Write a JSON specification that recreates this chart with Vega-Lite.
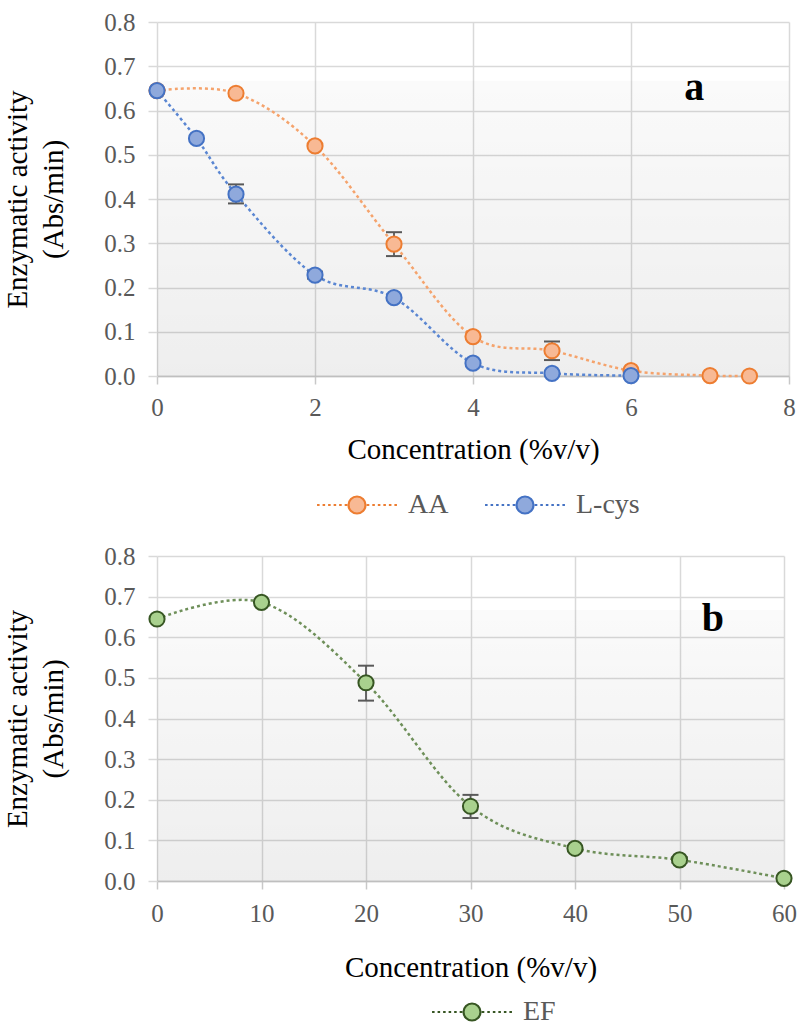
{
  "$schema": "https://vega.github.io/schema/vega-lite/v6.json",
  "background": "white",
  "padding": {"left": 3, "top": 10, "right": 0, "bottom": 0},
  "spacing": 25,
  "config": {
    "view": {"stroke": null},
    "font": "Liberation Serif",
    "legend": {
      "disable": false,
      "layout": {"bottom": {"anchor": "middle"}},
      "labelFont": "Liberation Serif", "labelFontSize": 28, "labelColor": "#595959",
      "titleFont": "Liberation Serif", "titleFontSize": 28, "titleFontWeight": "normal", "titleOrient": "left",
      "symbolType": "M-1.15,0L-1.45,0M-1.8,0L-2.1,0M-2.45,0L-2.75,0M-3.1,0L-3.4,0M-3.75,0L-4.05,0M-4.4,0L-4.7,0M1.15,0L1.45,0M1.8,0L2.1,0M2.45,0L2.75,0M3.1,0L3.4,0M3.75,0L4.05,0M4.4,0L4.7,0M1,0C1,0.552,0.552,1,0,1C-0.552,1,-1,0.552,-1,0C-1,-0.552,-0.552,-1,0,-1C0.552,-1,1,-0.552,1,0Z",
      "symbolSize": 289, "symbolStrokeWidth": 2.2, "symbolOpacity": 1, "labelOffset": 37, "columnPadding": 31
    }
  },
  "datasets": {
    "a": [
      {"s": "AA", "x": 0, "y": 0.645},
      {"s": "AA", "x": 1, "y": 0.639},
      {"s": "AA", "x": 2, "y": 0.52},
      {"s": "AA", "x": 3, "y": 0.298},
      {"s": "AA", "x": 4, "y": 0.089},
      {"s": "AA", "x": 5, "y": 0.057},
      {"s": "AA", "x": 6, "y": 0.012},
      {"s": "AA", "x": 7, "y": 0.001},
      {"s": "AA", "x": 7.5, "y": 0.0},
      {"s": "L-cys", "x": 0, "y": 0.645},
      {"s": "L-cys", "x": 0.5, "y": 0.537},
      {"s": "L-cys", "x": 1, "y": 0.411},
      {"s": "L-cys", "x": 2, "y": 0.228},
      {"s": "L-cys", "x": 3, "y": 0.177},
      {"s": "L-cys", "x": 4, "y": 0.029},
      {"s": "L-cys", "x": 5, "y": 0.006},
      {"s": "L-cys", "x": 6, "y": 0.001}
    ],
    "aerr": [
      {"x": 3, "lo": 0.271, "hi": 0.325},
      {"x": 5, "lo": 0.036, "hi": 0.078},
      {"x": 1, "lo": 0.39, "hi": 0.433},
      {"x": 2, "lo": 0.22, "hi": 0.236}
    ],
    "b": [
      {"s": "EF", "x": 0, "y": 0.645},
      {"s": "EF", "x": 10, "y": 0.686},
      {"s": "EF", "x": 20, "y": 0.488},
      {"s": "EF", "x": 30, "y": 0.184},
      {"s": "EF", "x": 40, "y": 0.0805},
      {"s": "EF", "x": 50, "y": 0.052},
      {"s": "EF", "x": 60, "y": 0.0066}
    ],
    "berr": [
      {"x": 20, "lo": 0.444, "hi": 0.53},
      {"x": 30, "lo": 0.155, "hi": 0.212},
      {"x": 50, "lo": 0.045, "hi": 0.059}
    ],
    "bgA": [{"x": 0, "x2": 8, "y": 0, "y2": 0.667}],
    "bgB": [{"x": 0, "x2": 60, "y": 0, "y2": 0.667}],
    "la": [{"x": 6.8, "y": 0.651, "t": "a"}],
    "lb": [{"x": 53.2, "y": 0.645, "t": "b"}]
  },
  "vconcat": [
    {
      "width": 632,
      "height": 354,
      "layer": [
        {
          "data": {"name": "bgA"},
          "mark": {"type": "rect", "color": {"gradient": "linear", "x1": 0, "y1": 0, "x2": 0, "y2": 1, "stops": [{"offset": 0, "color": "rgba(0,0,0,0.02)"}, {"offset": 1, "color": "rgba(0,0,0,0.066)"}]}},
          "encoding": {
            "x": {"field": "x", "type": "quantitative", "scale": {"domain": [0, 8], "nice": false},
                  "axis": {"title": "Concentration (%v/v)", "values": [0, 2, 4, 6, 8], "format": "d", "labelFlush": false, "tickSize": 8, "labelPadding": 11, "titlePadding": 15, "domain": true, "grid": true,
                           "labelFont": "Liberation Serif", "labelFontSize": 25, "labelColor": "#595959", "titleFont": "Liberation Serif", "titleFontSize": 29, "titleFontWeight": "normal", "titleColor": "#000000",
                           "gridColor": "#d9d9d9", "gridWidth": 1.5, "tickColor": "#c8c8c8", "tickWidth": 1.5, "domainColor": "#bfbfbf", "domainWidth": 1.5}},
            "x2": {"field": "x2"},
            "y": {"field": "y", "type": "quantitative", "scale": {"domain": [0, 0.8], "nice": false},
                  "axis": {"title": ["Enzymatic activity", "(Abs/min)"], "titleLineHeight": 36, "titlePadding": 35, "values": [0, 0.1, 0.2, 0.3, 0.4, 0.5, 0.6, 0.7, 0.8], "format": ".1f", "labelFlush": false, "tickSize": 9, "labelPadding": 13, "domain": false, "grid": true,
                           "labelFont": "Liberation Serif", "labelFontSize": 25, "labelColor": "#595959", "titleFont": "Liberation Serif", "titleFontSize": 29, "titleFontWeight": "normal", "titleColor": "#000000",
                           "gridColor": "#d9d9d9", "gridWidth": 1.5, "tickColor": "#d9d9d9", "tickWidth": 1.5}},
            "y2": {"field": "y2"}
          }
        },
        {
          "data": {"name": "a"},
          "transform": [{"filter": "datum.s === 'AA'"}],
          "mark": {"type": "line", "interpolate": "cardinal", "strokeDash": [3, 3], "strokeWidth": 2.5, "color": "#F5A36C"},
          "encoding": {
            "x": {"field": "x", "type": "quantitative"},
            "y": {"field": "y", "type": "quantitative"}
          }
        },
        {
          "data": {"name": "a"},
          "transform": [{"filter": "datum.s === 'L-cys'"}],
          "mark": {"type": "line", "interpolate": "cardinal", "strokeDash": [3, 3], "strokeWidth": 2.5, "color": "#5A86D2"},
          "encoding": {
            "x": {"field": "x", "type": "quantitative"},
            "y": {"field": "y", "type": "quantitative"}
          }
        },
        {
          "data": {"name": "aerr"},
          "mark": {"type": "rule", "color": "#595959", "strokeWidth": 1.8},
          "encoding": {
            "x": {"field": "x", "type": "quantitative"},
            "y": {"field": "lo", "type": "quantitative"},
            "y2": {"field": "hi"}
          }
        },
        {
          "data": {"name": "aerr"},
          "mark": {"type": "tick", "orient": "horizontal", "size": 16, "thickness": 2, "color": "#595959", "opacity": 1},
          "encoding": {
            "x": {"field": "x", "type": "quantitative"},
            "y": {"field": "lo", "type": "quantitative"}
          }
        },
        {
          "data": {"name": "aerr"},
          "mark": {"type": "tick", "orient": "horizontal", "size": 16, "thickness": 2, "color": "#595959", "opacity": 1},
          "encoding": {
            "x": {"field": "x", "type": "quantitative"},
            "y": {"field": "hi", "type": "quantitative"}
          }
        },
        {
          "data": {"name": "a"},
          "mark": {"type": "point", "shape": "circle", "filled": true, "size": 230, "strokeWidth": 2, "opacity": 1, "fillOpacity": 1, "strokeOpacity": 1},
          "encoding": {
            "x": {"field": "x", "type": "quantitative"},
            "y": {"field": "y", "type": "quantitative"},
            "color": {"field": "s", "type": "nominal", "scale": {"domain": ["AA", "L-cys"], "range": ["#F8B994", "#8FA9DC"]},
                      "legend": {"title": " ", "titlePadding": 37, "offset": 27, "orient": "bottom", "direction": "horizontal",
                                 "encode": {"symbols": {"update": {"stroke": {"signal": "datum.value === 'AA' ? '#ED7D31' : '#4472C4'"}, "strokeWidth": {"value": 2.2}}}}}},
            "stroke": {"field": "s", "type": "nominal", "scale": {"domain": ["AA", "L-cys"], "range": ["#ED7D31", "#4472C4"]}, "legend": null}
          }
        },
        {
          "data": {"name": "la"},
          "mark": {"type": "text", "font": "Liberation Serif", "fontSize": 40, "fontWeight": "bold", "color": "#000000", "align": "center", "baseline": "middle"},
          "encoding": {
            "x": {"field": "x", "type": "quantitative"},
            "y": {"field": "y", "type": "quantitative"},
            "text": {"field": "t"}
          }
        }
      ]
    },
    {
      "width": 627,
      "height": 325,
      "layer": [
        {
          "data": {"name": "bgB"},
          "mark": {"type": "rect", "color": {"gradient": "linear", "x1": 0, "y1": 0, "x2": 0, "y2": 1, "stops": [{"offset": 0, "color": "rgba(0,0,0,0.02)"}, {"offset": 1, "color": "rgba(0,0,0,0.066)"}]}},
          "encoding": {
            "x": {"field": "x", "type": "quantitative", "scale": {"domain": [0, 60], "nice": false},
                  "axis": {"title": "Concentration (%v/v)", "values": [0, 10, 20, 30, 40, 50, 60], "format": "d", "labelFlush": false, "tickSize": 8, "labelPadding": 12, "titlePadding": 27, "domain": true, "grid": true,
                           "labelFont": "Liberation Serif", "labelFontSize": 25, "labelColor": "#595959", "titleFont": "Liberation Serif", "titleFontSize": 29, "titleFontWeight": "normal", "titleColor": "#000000",
                           "gridColor": "#d9d9d9", "gridWidth": 1.5, "tickColor": "#c8c8c8", "tickWidth": 1.5, "domainColor": "#bfbfbf", "domainWidth": 1.5}},
            "x2": {"field": "x2"},
            "y": {"field": "y", "type": "quantitative", "scale": {"domain": [0, 0.8], "nice": false},
                  "axis": {"title": ["Enzymatic activity", "(Abs/min)"], "titleLineHeight": 36, "titlePadding": 35, "values": [0, 0.1, 0.2, 0.3, 0.4, 0.5, 0.6, 0.7, 0.8], "format": ".1f", "labelFlush": false, "tickSize": 9, "labelPadding": 13, "domain": false, "grid": true,
                           "labelFont": "Liberation Serif", "labelFontSize": 25, "labelColor": "#595959", "titleFont": "Liberation Serif", "titleFontSize": 29, "titleFontWeight": "normal", "titleColor": "#000000",
                           "gridColor": "#d9d9d9", "gridWidth": 1.5, "tickColor": "#d9d9d9", "tickWidth": 1.5}},
            "y2": {"field": "y2"}
          }
        },
        {
          "data": {"name": "b"},
          "mark": {"type": "line", "interpolate": "cardinal", "strokeDash": [3, 3], "strokeWidth": 2.5, "color": "#6E8F59"},
          "encoding": {
            "x": {"field": "x", "type": "quantitative"},
            "y": {"field": "y", "type": "quantitative"}
          }
        },
        {
          "data": {"name": "berr"},
          "mark": {"type": "rule", "color": "#595959", "strokeWidth": 1.8},
          "encoding": {
            "x": {"field": "x", "type": "quantitative"},
            "y": {"field": "lo", "type": "quantitative"},
            "y2": {"field": "hi"}
          }
        },
        {
          "data": {"name": "berr"},
          "mark": {"type": "tick", "orient": "horizontal", "size": 16, "thickness": 2, "color": "#595959", "opacity": 1},
          "encoding": {
            "x": {"field": "x", "type": "quantitative"},
            "y": {"field": "lo", "type": "quantitative"}
          }
        },
        {
          "data": {"name": "berr"},
          "mark": {"type": "tick", "orient": "horizontal", "size": 16, "thickness": 2, "color": "#595959", "opacity": 1},
          "encoding": {
            "x": {"field": "x", "type": "quantitative"},
            "y": {"field": "hi", "type": "quantitative"}
          }
        },
        {
          "data": {"name": "b"},
          "mark": {"type": "point", "shape": "circle", "filled": true, "size": 230, "strokeWidth": 2, "opacity": 1, "fillOpacity": 1, "strokeOpacity": 1, "stroke": "#375623"},
          "encoding": {
            "x": {"field": "x", "type": "quantitative"},
            "y": {"field": "y", "type": "quantitative"},
            "color": {"field": "s", "type": "nominal", "scale": {"domain": ["EF"], "range": ["#A9D18E"]},
                      "legend": {"title": " ", "titlePadding": 72, "offset": 16, "orient": "bottom", "direction": "horizontal",
                                 "encode": {"symbols": {"update": {"stroke": {"value": "#375623"}, "strokeWidth": {"value": 2.2}}}}}}
          }
        },
        {
          "data": {"name": "lb"},
          "mark": {"type": "text", "font": "Liberation Serif", "fontSize": 40, "fontWeight": "bold", "color": "#000000", "align": "center", "baseline": "middle"},
          "encoding": {
            "x": {"field": "x", "type": "quantitative"},
            "y": {"field": "y", "type": "quantitative"},
            "text": {"field": "t"}
          }
        }
      ]
    }
  ],
  "resolve": {
    "scale": {"color": "independent", "fill": "independent", "stroke": "independent", "x": "independent", "y": "independent"}
  }
}
